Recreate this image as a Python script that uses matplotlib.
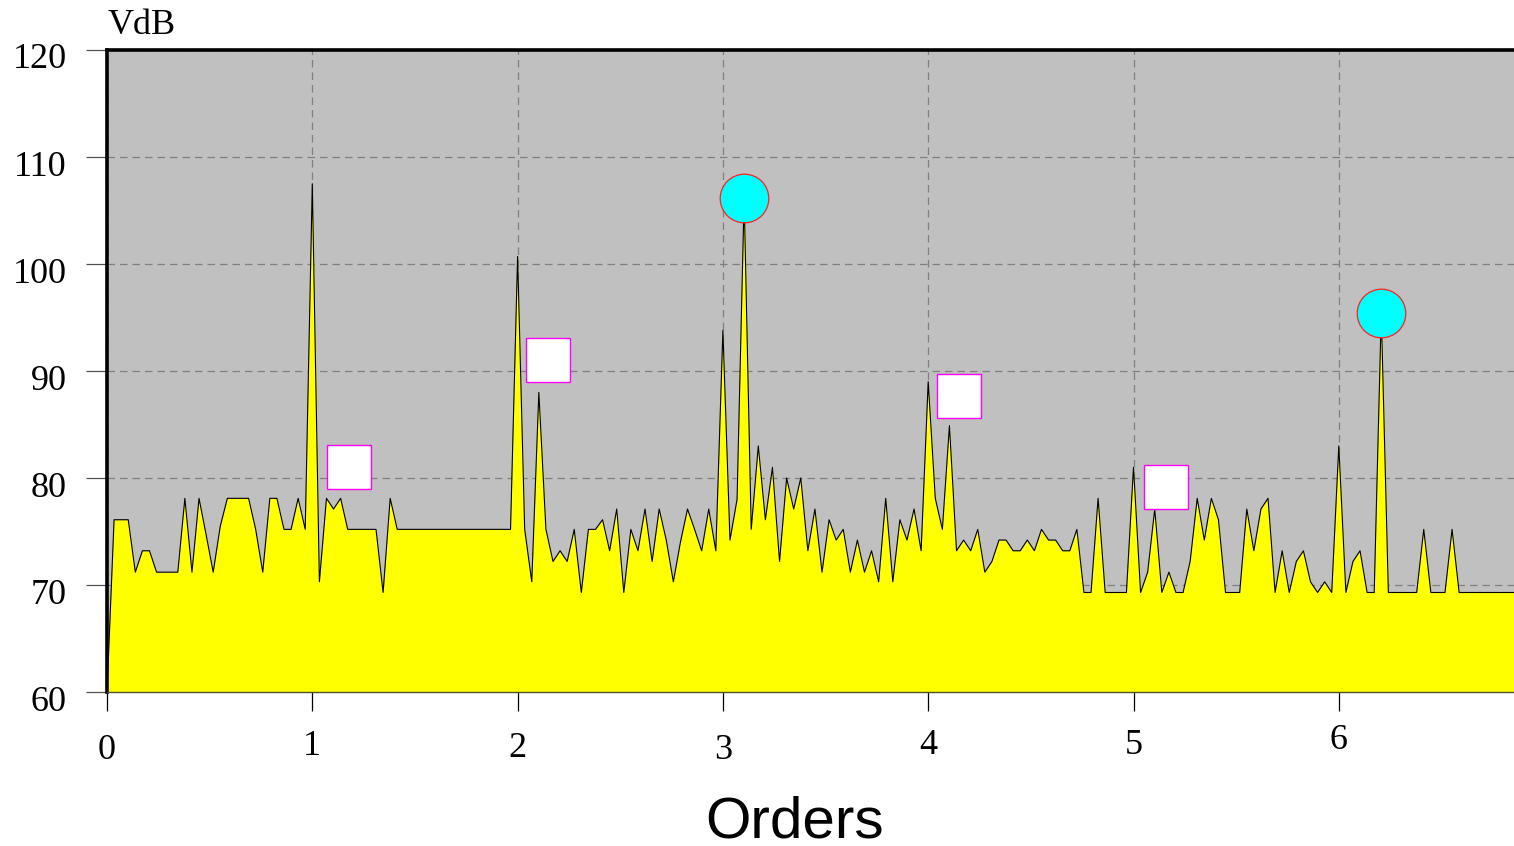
import numpy as np
import matplotlib.pyplot as plt
import matplotlib.transforms as mtransforms

plt.rcParams['font.family'] = ['Liberation Serif', 'DejaVu Serif']

# spectrum, 29 lines per order
lines_per_order = 29
vdb = [
    60.0, 76.1, 76.1, 76.1, 71.2, 73.2, 73.2, 71.2, 71.2, 71.2,
    71.2, 78.1, 71.2, 78.1, 74.7, 71.2, 75.5, 78.1, 78.1, 78.1,
    78.1, 75.2, 71.2, 78.1, 78.1, 75.2, 75.2, 78.1, 75.2, 107.5,
    70.3, 78.1, 77.1, 78.1, 75.2, 75.2, 75.2, 75.2, 75.2, 69.3,
    78.1, 75.2, 75.2, 75.2, 75.2, 75.2, 75.2, 75.2, 75.2, 75.2,
    75.2, 75.2, 75.2, 75.2, 75.2, 75.2, 75.2, 75.2, 100.7, 75.2,
    70.3, 88.0, 75.2, 72.2, 73.2, 72.2, 75.2, 69.3, 75.2, 75.2,
    76.1, 73.2, 77.1, 69.3, 75.2, 73.2, 77.1, 72.2, 77.1, 74.2,
    70.3, 74.0, 77.1, 75.2, 73.2, 77.1, 73.2, 93.8, 74.2, 78.0,
    106.2, 75.2, 83.0, 76.1, 81.0, 72.2, 80.0, 77.1, 80.0, 73.2,
    77.1, 71.2, 76.1, 74.2, 75.2, 71.2, 74.2, 71.2, 73.2, 70.3,
    78.1, 70.3, 76.1, 74.2, 77.1, 73.2, 89.0, 78.1, 75.2, 84.9,
    73.2, 74.2, 73.2, 75.2, 71.2, 72.2, 74.2, 74.2, 73.2, 73.2,
    74.2, 73.2, 75.2, 74.2, 74.2, 73.2, 73.2, 75.2, 69.3, 69.3,
    78.1, 69.3, 69.3, 69.3, 69.3, 81.0, 69.3, 71.2, 77.1, 69.3,
    71.2, 69.3, 69.3, 72.2, 78.1, 74.2, 78.1, 76.1, 69.3, 69.3,
    69.3, 77.1, 73.2, 77.1, 78.1, 69.3, 73.2, 69.3, 72.2, 73.2,
    70.3, 69.3, 70.3, 69.3, 83.0, 69.3, 72.2, 73.2, 69.3, 69.3,
    95.4, 69.3, 69.3, 69.3, 69.3, 69.3, 75.2, 69.3, 69.3, 69.3,
    75.2, 69.3, 69.3, 69.3, 69.3, 69.3, 69.3, 69.3, 69.3, 69.3,
    69.3,
]
orders = np.arange(len(vdb)) / lines_per_order

# markers
circle_orders = [90 / 29, 180 / 29]
circle_vdb = [106.2, 95.4]
box_orders = [1.181, 2.15, 4.15, 5.16]
box_vdb = [81.0, 91.0, 87.7, 79.2]

xticks = [0, 1, 2, 3, 4, 5, 6]
xtick_drop = [42, 39, 40.5, 42, 38.5, 38.5, 35]  # label offsets, points
yticks = [60, 70, 80, 90, 100, 110, 120]

fig = plt.figure(figsize=(15.14, 8.46), dpi=100)
ax = fig.add_axes([107 / 1514, 154 / 846, 1407 / 1514, 642 / 846])
ax.set_facecolor('#c0c0c0')

ax.fill_between(orders, 60, vdb, color='#ffff00', zorder=2, linewidth=0)
ax.plot(orders, vdb, color='black', lw=0.8, zorder=3)

ax.plot(box_orders, box_vdb, 's', ms=32, mfc='white', mec='#ff00ff',
        mew=1.0, zorder=4, linestyle='none')
ax.plot(circle_orders, circle_vdb, 'o', ms=35, mfc='#00ffff', mec='#ff2020',
        mew=0.9, zorder=4, linestyle='none')

ax.set_xlim(0, 1407 / 205.3)
ax.set_ylim(60, 120)
ax.set_xticks(xticks)
ax.set_xticklabels([])
ax.set_yticks(yticks)
ax.set_yticklabels([str(v) for v in yticks], fontsize=26)
ax.grid(True, color='#808080', linestyle=(0, (6, 4)), lw=0.9)
ax.set_axisbelow(True)

ax.tick_params(axis='y', length=15, width=0.9, color='#505050', pad=14)
ax.tick_params(axis='x', length=14, width=0.9, color='black')

# y labels sit a little below their ticks
shift = mtransforms.ScaledTranslation(0, -0.06, fig.dpi_scale_trans)
for lab in ax.get_yticklabels():
    lab.set_transform(lab.get_transform() + shift)

for t, d in zip(xticks, xtick_drop):
    ax.annotate(str(t), xy=(t, 60), xytext=(0, -d), textcoords='offset points',
                ha='center', va='center', fontsize=26)

for s in ['left', 'top']:
    ax.spines[s].set_linewidth(2.6)
    ax.spines[s].set_color('black')
ax.spines['right'].set_visible(False)
ax.spines['bottom'].set_linewidth(1.0)
ax.spines['bottom'].set_color('#505030')

fig.text(108 / 1514, 1 - 25 / 846, 'VdB', fontsize=26, ha='left', va='center')
fig.text(795 / 1514, 1 - 822 / 846, 'Orders', fontsize=42, ha='center',
         va='center', family='Liberation Sans')

fig.savefig('out.png', dpi=100)
